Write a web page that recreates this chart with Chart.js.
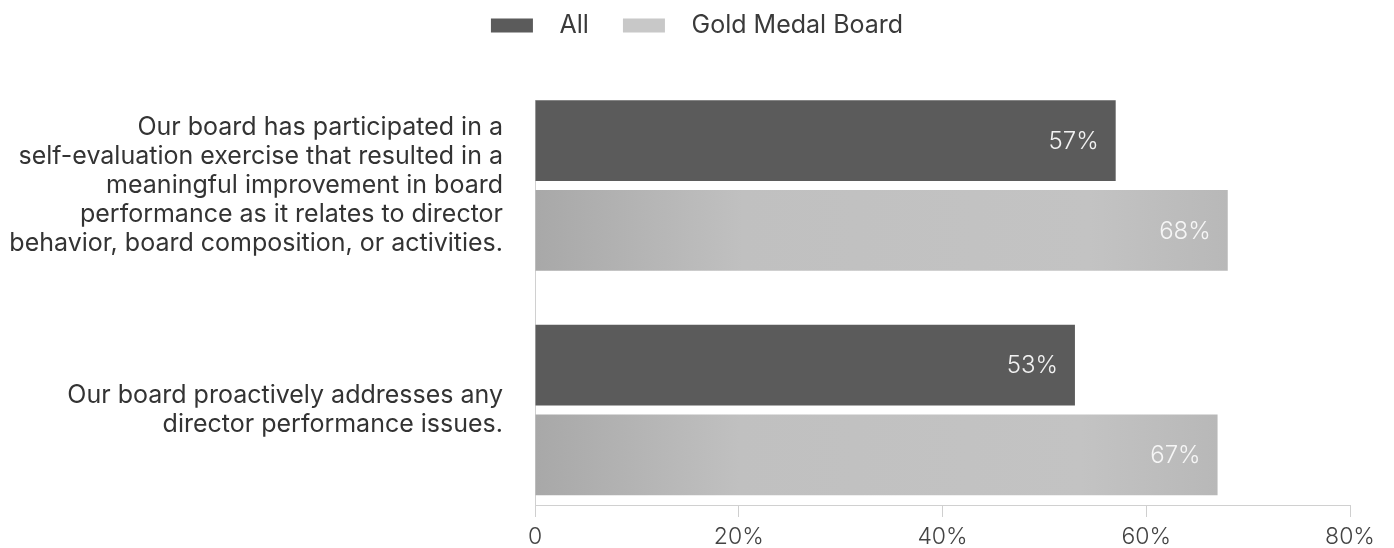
<!DOCTYPE html>
<html><head><meta charset="utf-8">
<script src="https://cdn.jsdelivr.net/npm/chart.js@4.4.1/dist/chart.umd.min.js"></script>
<style>html,body{margin:0;padding:0;background:#fff}#wrap{width:1394px;height:548px;position:relative}</style>
</head><body><div id="wrap"><canvas id="c"></canvas></div>
<script>
const categories = [
  ["Our board has participated in a", "self-evaluation exercise that resulted in a", "meaningful improvement in board", "performance as it relates to director", "behavior, board composition, or activities."],
  ["Our board proactively addresses any", "director performance issues."]
];
const seriesNames = ["All", "Gold Medal Board"];
const allValues = [57, 53];
const goldValues = [68, 67];
const xTickValues = [0, 20, 40, 60, 80];

const FONT = 'Inter';

function goldGradient(ctx) {
  const chart = ctx.chart;
  if (!chart.chartArea || ctx.type !== 'data') return '#c4c4c4';
  const xs = chart.scales.x;
  const x0 = xs.getPixelForValue(0);
  const x1 = xs.getPixelForValue(ctx.parsed ? ctx.parsed.x : 0);
  if (!isFinite(x0) || !isFinite(x1) || x1 <= x0) return '#c4c4c4';
  const g = chart.ctx.createLinearGradient(x0, 0, x1, 0);
  g.addColorStop(0, '#a8a8a8');
  g.addColorStop(0.3, '#c0c0c0');
  g.addColorStop(0.8, '#c3c3c3');
  g.addColorStop(1, '#b8b8b8');
  return g;
}

const valueLabels = {
  id: 'valueLabels',
  afterDatasetsDraw(chart) {
    const c = chart.ctx;
    c.save();
    c.font = '300 24px ' + FONT;
    c.textAlign = 'right';
    c.textBaseline = 'middle';
    chart.data.datasets.forEach((ds, di) => {
      const meta = chart.getDatasetMeta(di);
      meta.data.forEach((el, i) => {
        c.fillStyle = di === 0 ? '#f2f2f2' : '#f6f6f6';
        c.fillText(ds.data[i].x + '%', el.x - 17, el.y + 1);
      });
    });
    c.restore();
  }
};

const legendHeight = {
  id: 'legendHeight',
  beforeInit(chart) {
    const orig = chart.legend.fit;
    chart.legend.fit = function () { orig.call(this); this.height = 100; };
  }
};

new Chart(document.getElementById('c'), {
  type: 'bar',
  data: {
    datasets: [
      { label: seriesNames[0], data: allValues.map((v, i) => ({ x: v, y: i })), backgroundColor: '#5b5b5b', borderWidth: 0 },
      { label: seriesNames[1], data: goldValues.map((v, i) => ({ x: v, y: i })), backgroundColor: goldGradient, borderWidth: 0 }
    ]
  },
  options: {
    indexAxis: 'y',
    responsive: true,
    maintainAspectRatio: false,
    animation: false,
    categoryPercentage: 0.8,
    barPercentage: 0.9,
    layout: { padding: { left: 0, right: 0, top: 0, bottom: 0 } },
    plugins: {
      tooltip: { enabled: false },
      legend: {
        position: 'top',
        labels: {
          boxWidth: 42, boxHeight: 14, padding: 13,
          color: '#3a3a3a', font: { family: FONT, size: 25 },
          generateLabels(chart) {
            const items = Chart.defaults.plugins.legend.labels.generateLabels(chart);
            items.forEach((it, i) => {
              it.text = '  ' + it.text + (i === 0 ? '   ' : '');
              it.fillStyle = i === 0 ? '#5b5b5b' : '#c8c8c8';
              it.strokeStyle = 'rgba(0,0,0,0)';
              it.lineWidth = 0;
            });
            return items;
          }
        }
      }
    },
    scales: {
      x: {
        type: 'linear', position: 'bottom', min: 0, max: 80,
        afterBuildTicks(scale) { scale.ticks = xTickValues.map(v => ({ value: v })); },
        afterFit(scale) { scale.height = 43; scale.paddingRight = 44; },
        grid: { drawOnChartArea: false, drawTicks: true, tickLength: 12, color: '#cfcfcf' },
        border: { color: '#d0d0d0', width: 1 },
        ticks: { color: '#444', padding: 6, font: { family: FONT, size: 23, weight: 300 },
          callback: v => v === 0 ? '0' : v + '%' }
      },
      y: {
        type: 'linear', reverse: true, min: -0.381, max: 1.423, offset: false,
        afterBuildTicks(scale) { scale.ticks = categories.map((_, i) => ({ value: i })); },
        afterFit(scale) { scale.width = 535; scale.paddingTop = 0; scale.paddingBottom = 0; },
        grid: { display: false, drawTicks: false },
        border: { display: true, color: '#d0d0d0', width: 1 },
        ticks: { color: '#333', padding: 32, font: { family: FONT, size: 25, lineHeight: 1.16 },
          callback: v => categories[v] }
      }
    }
  },
  plugins: [valueLabels, legendHeight]
});
</script>
</body></html>
